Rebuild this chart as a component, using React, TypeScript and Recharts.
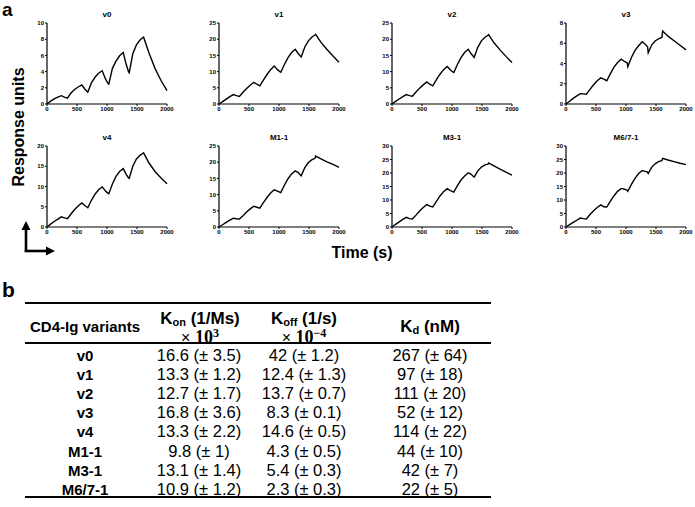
import { LineChart, Line, XAxis, YAxis } from "recharts";

// sampling times (s), shared by all sensorgrams
const times = [
  0, 60, 120, 180, 240, 290, 340, 400, 460, 520, 580, 630, 680, 740, 800, 860, 920, 975, 1020, 1030,
  1090, 1150, 1210, 1270, 1320, 1360, 1370, 1430, 1490, 1550, 1600, 1610, 1700, 1800, 1900, 2000,
];

const v0 = [
  0, 0.35, 0.62, 0.85, 1.03, 0.85, 0.72, 1.35, 1.8, 2.1, 2.35, 1.85, 1.45, 2.6, 3.3, 3.8, 4.1, 3.1, 2.5, 2.45,
  4.4, 5.3, 5.95, 6.35, 4.9, 3.95, 3.85, 6.2, 7.3, 7.9, 8.2, 8.25, 6.3, 4.4, 2.9, 1.65,
];
const v1 = [
  0, 0.75, 1.5, 2.25, 2.9, 2.6, 2.35, 3.6, 4.8, 5.8, 6.7, 6.1, 5.6, 7.4, 9.1, 10.6, 11.7, 10.6, 9.9, 9.8,
  12.2, 14.3, 15.9, 16.9, 15.6, 14.7, 14.5, 17.6, 19.5, 20.7, 21.3, 21.5, 19.0, 16.8, 14.8, 12.9,
];
const v2 = [
  0, 0.8, 1.55, 2.3, 2.9, 2.6, 2.4, 3.7, 4.9, 5.9, 6.8, 6.1, 5.6, 7.5, 9.2, 10.6, 11.6, 10.5, 9.8, 9.7,
  12.2, 14.3, 15.9, 16.9, 15.5, 14.6, 14.4, 17.5, 19.5, 20.6, 21.2, 21.4, 18.9, 16.7, 14.7, 12.8,
];
const v3 = [
  0, 0.27, 0.55, 0.8, 1.02, 1.0, 0.96, 1.45, 1.9, 2.3, 2.58, 2.45, 2.3, 3.0, 3.65, 4.1, 4.43, 4.2, 4.05, 3.7,
  4.6, 5.3, 5.75, 6.15, 5.9, 5.65, 5.05, 5.85, 6.25, 6.45, 6.6, 7.2, 6.7, 6.25, 5.8, 5.35,
];
const v4 = [
  0, 0.7, 1.35, 1.95, 2.5, 2.25, 2.05, 3.2, 4.3, 5.2, 5.95, 5.3, 4.75, 6.6, 8.1, 9.2, 9.9, 8.9, 8.3, 8.2,
  10.6, 12.5, 13.7, 14.4, 13.0, 12.1, 12.0, 15.0, 16.8, 17.7, 18.2, 18.3, 15.8, 13.7, 12.1, 10.7,
];
const m1 = [
  0, 0.7, 1.4, 2.1, 2.7, 2.55, 2.45, 3.5, 4.6, 5.6, 6.4, 6.1, 5.8, 7.5, 9.1, 10.5, 11.5, 11.1, 10.7, 10.6,
  12.9, 14.9, 16.4, 17.3, 16.8, 16.0, 15.8, 18.3, 19.9, 20.8, 21.2, 21.9, 21.0, 20.1, 19.3, 18.4,
];
const m3 = [
  0, 1.0, 1.9, 2.8, 3.6, 3.1, 3.0, 4.4, 5.9, 7.2, 8.3, 7.7, 7.4, 9.5, 11.5, 13.1, 14.2, 13.5, 13.0, 12.9,
  15.3, 17.4, 18.9, 20.1, 19.5, 18.6, 18.5, 20.8, 22.2, 23.0, 23.3, 23.7, 22.6, 21.4, 20.3, 19.2,
];
const m67 = [
  0, 0.85, 1.7, 2.5, 3.3, 3.1, 3.0, 4.6, 6.0, 7.2, 8.2, 7.5, 7.4, 9.6, 11.6, 13.2, 14.3, 14.0, 13.6, 13.2,
  15.8, 18.0, 19.8, 20.9, 20.6, 20.3, 19.8, 22.2, 23.5, 24.3, 24.6, 25.4, 24.8, 24.2, 23.6, 23.1,
];

const timeTicks = [0, 500, 1000, 1500, 2000];
const ticks8 = [0, 2, 4, 6, 8];
const ticks10 = [0, 2, 4, 6, 8, 10];
const ticks20 = [0, 5, 10, 15, 20];
const ticks25 = [0, 5, 10, 15, 20, 25];
const ticks30 = [0, 5, 10, 15, 20, 25, 30];

// table b
const variants = ["v0", "v1", "v2", "v3", "v4", "M1-1", "M3-1", "M6/7-1"];
const kon = ["16.6 (± 3.5)", "13.3 (± 1.2)", "12.7 (± 1.7)", "16.8 (± 3.6)", "13.3 (± 2.2)", "9.8 (± 1)", "13.1 (± 1.4)", "10.9 (± 1.2)"];
const koff = ["42 (± 1.2)", "12.4 (± 1.3)", "13.7 (± 0.7)", "8.3 (± 0.1)", "14.6 (± 0.5)", "4.3 (± 0.5)", "5.4 (± 0.3)", "2.3 (± 0.3)"];
const kd = ["267 (± 64)", "97 (± 18)", "111 (± 20)", "52 (± 12)", "114 (± 22)", "44 (± 10)", "42 (± 7)", "22 (± 5)"];

const panels = [
  { name: "v0", values: v0, ticks: ticks10 },
  { name: "v1", values: v1, ticks: ticks25 },
  { name: "v2", values: v2, ticks: ticks25 },
  { name: "v3", values: v3, ticks: ticks8 },
  { name: "v4", values: v4, ticks: ticks20 },
  { name: "M1-1", values: m1, ticks: ticks25 },
  { name: "M3-1", values: m3, ticks: ticks30 },
  { name: "M6/7-1", values: m67, ticks: ticks30 },
];

const FONT = "'Liberation Sans', Arial, sans-serif";
const colX = [47, 219, 392, 566];
const rowTop = [0, 123];
const tickStyle = { fontSize: 6, fontWeight: "bold", fill: "#000", fontFamily: FONT };

function Panel({ idx }: { idx: number }) {
  const p = panels[idx];
  const ax = colX[idx % 4];
  const top = rowTop[idx < 4 ? 0 : 1];
  const data = times.map((t, i) => ({ t, y: p.values[i] }));
  return (
    <>
      <div
        style={{
          position: "absolute",
          left: ax,
          top: top + 10,
          width: 120,
          textAlign: "center",
          fontSize: 8,
          lineHeight: "10px",
          fontWeight: "bold",
        }}
      >
        {p.name}
      </div>
      <div style={{ position: "absolute", left: ax - 40, top }}>
        <LineChart width={170} height={122} data={data} margin={{ top: 23, right: 10, bottom: 0, left: 0 }}>
          <XAxis
            dataKey="t"
            type="number"
            domain={[0, 2000]}
            ticks={timeTicks}
            height={18}
            tickSize={2}
            tickMargin={1}
            tick={tickStyle}
            axisLine={{ stroke: "#000", strokeWidth: 1.2 }}
            tickLine={{ stroke: "#000" }}
          />
          <YAxis
            type="number"
            domain={[0, p.ticks[p.ticks.length - 1]]}
            ticks={p.ticks}
            width={40}
            tickSize={2}
            tickMargin={1}
            tick={tickStyle}
            axisLine={{ stroke: "#000", strokeWidth: 1.2 }}
            tickLine={{ stroke: "#000" }}
          />
          <Line
            type="linear"
            dataKey="y"
            stroke="#000"
            strokeWidth={1.4}
            dot={false}
            isAnimationActive={false}
          />
        </LineChart>
      </div>
    </>
  );
}

const cell = (cx: number, cy: number): React.CSSProperties => ({
  position: "absolute",
  left: cx,
  top: cy,
  transform: "translate(-50%, -50%)",
  whiteSpace: "nowrap",
  lineHeight: 1,
});

const subStyle: React.CSSProperties = { fontSize: 11, position: "relative", top: 2 };

function Times({ exp }: { exp: string }) {
  return (
    <span style={{ fontSize: 16 }}>
      ×{" "}
      <span style={{ fontFamily: "'Liberation Serif', serif", fontWeight: "bold", fontSize: 18 }}>
        10<span style={{ fontSize: 12, position: "relative", top: -6 }}>{exp}</span>
      </span>
    </span>
  );
}

function Table() {
  const rule = (y: number) => (
    <div style={{ position: "absolute", left: 25, top: y, width: 466, height: 2, background: "#000" }} />
  );
  const head: React.CSSProperties = { fontWeight: "bold", fontSize: 17 };
  return (
    <>
      {rule(302)}
      {rule(342)}
      {rule(496)}
      <div style={{ ...cell(85, 326), fontWeight: "bold", fontSize: 15 }}>CD4-Ig variants</div>
      <div style={{ ...cell(200, 318), ...head }}>
        K<span style={subStyle}>on</span> (1/Ms)
      </div>
      <div style={cell(200, 337)}>
        <Times exp="3" />
      </div>
      <div style={{ ...cell(304, 318), ...head }}>
        K<span style={subStyle}>off</span> (1/s)
      </div>
      <div style={cell(304, 337)}>
        <Times exp="−4" />
      </div>
      <div style={{ ...cell(430, 326), ...head }}>
        K<span style={subStyle}>d</span> (nM)
      </div>
      {variants.map((v, i) => {
        const y = 355 + i * 19.1;
        return (
          <div key={v}>
            <div style={{ ...cell(85, y), fontWeight: "bold", fontSize: 15 }}>{v}</div>
            <div style={{ ...cell(199, y), fontSize: 16.5 }}>{kon[i]}</div>
            <div style={{ ...cell(304, y), fontSize: 16.5 }}>{koff[i]}</div>
            <div style={{ ...cell(430, y), fontSize: 16.5 }}>{kd[i]}</div>
          </div>
        );
      })}
    </>
  );
}

export default function App() {
  return (
    <div
      style={{
        position: "absolute",
        left: 0,
        top: 0,
        width: 695,
        height: 507,
        background: "#fff",
        fontFamily: FONT,
        color: "#000",
        overflow: "hidden",
      }}
    >
      {panels.map((p, i) => (
        <Panel key={p.name} idx={i} />
      ))}
      <svg width={695} height={507} style={{ position: "absolute", left: 0, top: 0, pointerEvents: "none" }}>
        <text x={2} y={16} fontSize={19} fontWeight="bold" fontFamily={FONT}>
          a
        </text>
        <text x={2} y={297} fontSize={21} fontWeight="bold" fontFamily={FONT}>
          b
        </text>
        <text
          x={18}
          y={127}
          transform="rotate(-90 18 127)"
          textAnchor="middle"
          dominantBaseline="central"
          fontSize={16}
          fontWeight="bold"
          fontFamily={FONT}
        >
          Response units
        </text>
        <text x={362} y={252} textAnchor="middle" dominantBaseline="central" fontSize={16} fontWeight="bold" fontFamily={FONT}>
          Time (s)
        </text>
        {/* axis arrows */}
        <line x1={26} y1={252} x2={26} y2={229} stroke="#000" strokeWidth={2.6} />
        <polygon points="26,221 21.5,230 30.5,230" fill="#000" />
        <line x1={24.7} y1={251} x2={47} y2={251} stroke="#000" strokeWidth={2.6} />
        <polygon points="55,251 46,246.5 46,255.5" fill="#000" />
      </svg>
      <Table />
    </div>
  );
}
